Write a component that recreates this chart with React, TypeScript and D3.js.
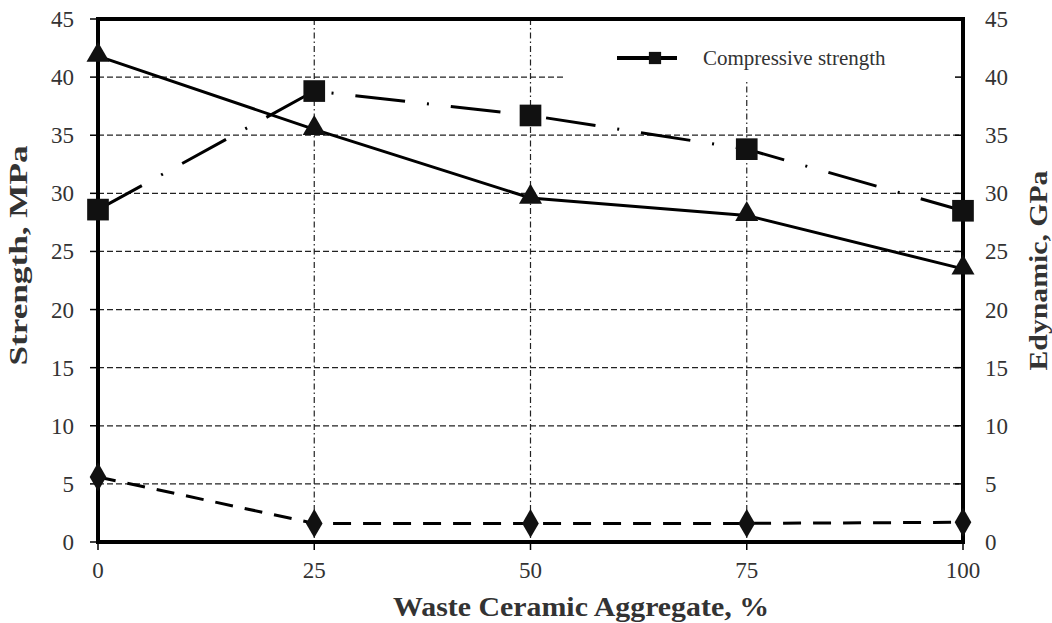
import React, { useEffect, useRef } from "react";
import * as d3 from "d3";

const categories = [0, 25, 50, 75, 100];
const compressive = [28.6, 38.8, 36.7, 33.8, 28.5];
const edynamic = [41.8, 35.5, 29.6, 28.1, 23.5];
const lowSeries = [5.6, 1.6, 1.6, 1.6, 1.7];
const yTicks = [0, 5, 10, 15, 20, 25, 30, 35, 40, 45];

const App = () => {
  const ref = useRef<SVGSVGElement>(null);
  const width = 1052;
  const height = 623;

  useEffect(() => {
    const svg = d3.select(ref.current);
    svg.selectAll("*").remove();

    const margin = { top: 19, right: 89, bottom: 81, left: 98 };
    const iw = width - margin.left - margin.right;
    const ih = height - margin.top - margin.bottom;
    const font = "'Liberation Serif', 'Times New Roman', serif";

    const x = d3.scaleLinear().domain([0, 100]).range([0, iw]);
    const y = d3.scaleLinear().domain([0, 45]).range([ih, 0]);

    const g = svg.append("g").attr("transform", `translate(${margin.left},${margin.top})`);

    // grid
    g.selectAll(".hg")
      .data(yTicks.filter((t) => t > 0 && t < 45))
      .join("line")
      .attr("x1", 0)
      .attr("x2", iw)
      .attr("y1", (d) => y(d))
      .attr("y2", (d) => y(d))
      .attr("stroke", "#222")
      .attr("stroke-width", 1.2)
      .attr("stroke-dasharray", "6,3");

    g.selectAll(".vg")
      .data(categories.filter((c) => c > 0 && c < 100))
      .join("line")
      .attr("x1", (d) => x(d))
      .attr("x2", (d) => x(d))
      .attr("y1", 0)
      .attr("y2", ih)
      .attr("stroke", "#222")
      .attr("stroke-width", 1.2)
      .attr("stroke-dasharray", "6,3,1.5,3");

    // legend box covering grid
    g.append("rect")
      .attr("x", 467)
      .attr("y", 2)
      .attr("width", iw - 469)
      .attr("height", 61)
      .attr("fill", "#fff");

    // axes ticks
    const tickLen = 8;
    g.selectAll(".lt")
      .data(yTicks)
      .join("line")
      .attr("x1", -tickLen)
      .attr("x2", 2)
      .attr("y1", (d) => y(d))
      .attr("y2", (d) => y(d))
      .attr("stroke", "#000")
      .attr("stroke-width", 1.5);
    g.selectAll(".rt")
      .data(yTicks)
      .join("line")
      .attr("x1", iw - tickLen)
      .attr("x2", iw + 2)
      .attr("y1", (d) => y(d))
      .attr("y2", (d) => y(d))
      .attr("stroke", "#000")
      .attr("stroke-width", 1.5);
    g.selectAll(".bt")
      .data(categories)
      .join("line")
      .attr("x1", (d) => x(d))
      .attr("x2", (d) => x(d))
      .attr("y1", ih - 2)
      .attr("y2", ih + 8)
      .attr("stroke", "#000")
      .attr("stroke-width", 1.5);

    // frame
    g.append("rect")
      .attr("x", 0)
      .attr("y", 0)
      .attr("width", iw)
      .attr("height", ih)
      .attr("fill", "none")
      .attr("stroke", "#000")
      .attr("stroke-width", 4);

    // tick labels
    g.selectAll(".ll")
      .data(yTicks)
      .join("text")
      .attr("x", -24)
      .attr("y", (d) => y(d))
      .attr("dy", "0.35em")
      .attr("text-anchor", "end")
      .attr("font-family", font)
      .attr("font-size", 23)
      .attr("fill", "#333")
      .text((d) => d);
    g.selectAll(".rl")
      .data(yTicks)
      .join("text")
      .attr("x", iw + 22)
      .attr("y", (d) => y(d))
      .attr("dy", "0.35em")
      .attr("text-anchor", "start")
      .attr("font-family", font)
      .attr("font-size", 23)
      .attr("fill", "#333")
      .text((d) => d);
    g.selectAll(".bl")
      .data(categories)
      .join("text")
      .attr("x", (d) => x(d))
      .attr("y", ih + 36)
      .attr("text-anchor", "middle")
      .attr("font-family", font)
      .attr("font-size", 23)
      .attr("fill", "#333")
      .text((d) => d);

    // axis titles
    g.append("text")
      .attr("x", 483)
      .attr("y", ih + 74)
      .attr("text-anchor", "middle")
      .attr("font-family", font)
      .attr("font-size", 27)
      .attr("font-weight", "bold")
      .attr("fill", "#333")
      .attr("textLength", 376)
      .attr("lengthAdjust", "spacingAndGlyphs")
      .text("Waste Ceramic Aggregate, %");
    g.append("text")
      .attr("transform", `translate(${-71},${ih / 2 - 25}) rotate(-90)`)
      .attr("text-anchor", "middle")
      .attr("font-family", font)
      .attr("font-size", 26)
      .attr("font-weight", "bold")
      .attr("fill", "#333")
      .attr("textLength", 220)
      .attr("lengthAdjust", "spacingAndGlyphs")
      .text("Strength, MPa");
    g.append("text")
      .attr("transform", `translate(${iw + 84},${ih / 2 - 10}) rotate(-90)`)
      .attr("text-anchor", "middle")
      .attr("font-family", font)
      .attr("font-size", 26)
      .attr("font-weight", "bold")
      .attr("fill", "#333")
      .attr("textLength", 200)
      .attr("lengthAdjust", "spacingAndGlyphs")
      .text("Edynamic, GPa");

    const line = d3
      .line<number>()
      .x((_, i) => x(categories[i]))
      .y((d) => y(d));

    // series lines
    g.append("path")
      .datum(compressive)
      .attr("d", line)
      .attr("fill", "none")
      .attr("stroke", "#000")
      .attr("stroke-width", 3)
      .attr("stroke-dasharray", "50,22,2,22");
    g.append("path")
      .datum(edynamic)
      .attr("d", line)
      .attr("fill", "none")
      .attr("stroke", "#000")
      .attr("stroke-width", 3);
    g.append("path")
      .datum(lowSeries)
      .attr("d", line)
      .attr("fill", "none")
      .attr("stroke", "#000")
      .attr("stroke-width", 3)
      .attr("stroke-dasharray", "18,12");

    // markers
    const sq = d3.symbol(d3.symbolSquare, 470);
    const tri = d3.symbol(d3.symbolTriangle, 230);
    const dia = d3.symbol(d3.symbolDiamond, 240);

    g.selectAll(".sq")
      .data(compressive)
      .join("path")
      .attr("transform", (d, i) => `translate(${x(categories[i])},${y(d)})`)
      .attr("d", sq)
      .attr("fill", "#111");
    g.selectAll(".tri")
      .data(edynamic)
      .join("path")
      .attr("transform", (d, i) => `translate(${x(categories[i])},${y(d) - 1})`)
      .attr("d", tri)
      .attr("fill", "#111");
    g.selectAll(".dia")
      .data(lowSeries)
      .join("path")
      .attr("transform", (d, i) => `translate(${x(categories[i])},${y(d)})`)
      .attr("d", dia)
      .attr("fill", "#111");

    // legend
    const lg = g.append("g").attr("transform", `translate(519,39)`);
    lg.append("line")
      .attr("x1", 0)
      .attr("x2", 60)
      .attr("y1", 0)
      .attr("y2", 0)
      .attr("stroke", "#000")
      .attr("stroke-width", 4);
    lg.append("path")
      .attr("transform", "translate(38,0)")
      .attr("d", d3.symbol(d3.symbolSquare, 150))
      .attr("fill", "#111");
    lg.append("text")
      .attr("x", 86)
      .attr("y", 0)
      .attr("dy", "0.35em")
      .attr("font-family", font)
      .attr("font-size", 21)
      .attr("fill", "#333")
      .text("Compressive strength");
  }, []);

  return <svg ref={ref} width={width} height={height} style={{ position: "absolute", left: 0, top: 0 }} />;
};

export default App;
